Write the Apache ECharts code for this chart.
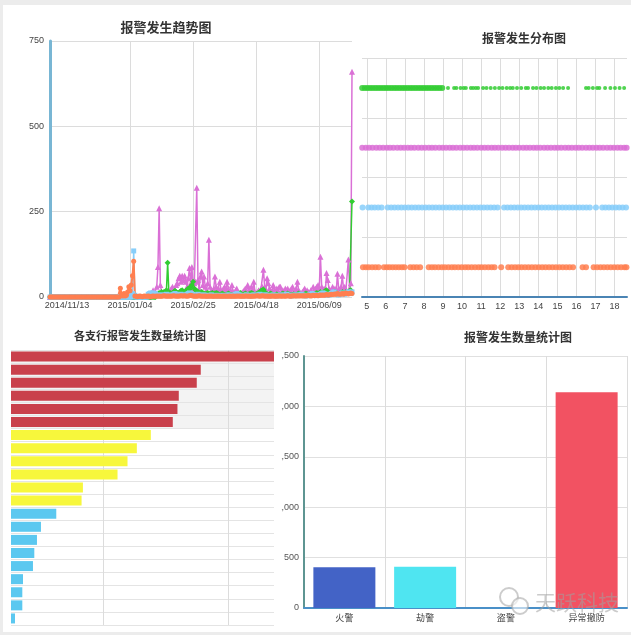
<!DOCTYPE html>
<html>
<head>
<meta charset="utf-8">
<script src="https://cdn.jsdelivr.net/npm/echarts@6/dist/echarts.min.js"></script>
<style>
html,body{margin:0;padding:0;width:631px;height:635px;background:#ececec;overflow:hidden;}
#paper{position:absolute;left:3px;top:5px;width:628px;height:627px;background:#fff;}
.c{position:absolute;left:0;top:0;width:631px;height:635px;}
</style>
</head>
<body>
<div id="paper"></div>
<div id="c4" class="c"></div>
<div id="c3" class="c"></div>
<div id="c1" class="c"></div>
<div id="c2" class="c"></div>
<script>
// ---------- Chart 1: 报警发生趋势图 ----------
const trendStart = [2014, 10, 30];
const trendDayCount = 250;
const trendLabels = ['2014/11/13', '2015/01/04', '2015/02/25', '2015/04/18', '2015/06/09'];
const trendGridLabels = ['2015/01/04', '2015/02/25', '2015/04/18', '2015/06/09'];

const purpleVals = [
  0,0,0,0,0,0,0,0,0,0, 0,0,0,0,0,0,0,0,0,0, 0,0,0,0,0,0,0,0,0,0, 0,0,0,0,0,0,0,0,0,0,
  0,0,0,0,0,0,0,0,0,0, 0,0,0,0,0,0,0,0,0,0, 0,0,0,0,0,0,0,0,0,0, 0,0,0,0,0,0,0,0,0,0,
  0,0,2,5,8,20,10,15,30,88,
  260,35,15,10,8,12,18,10,15,20,
  25,30,15,20,35,40,55,62,45,62,
  50,62,45,30,55,85,40,88,25,40,
  45,320,50,25,60,75,35,60,30,20,
  40,168,30,20,15,25,60,30,20,25,
  45,20,15,25,30,20,45,25,15,20,
  35,15,10,20,25,15,10,8,12,15,
  20,25,15,35,20,15,30,20,45,15,
  10,15,20,15,25,30,80,30,20,55,
  40,25,20,15,35,20,15,25,20,30,
  30,15,20,15,25,20,25,15,20,25,
  30,15,20,25,45,20,15,10,15,20,
  25,15,20,15,10,20,15,30,20,25,
  30,35,25,118,30,20,25,15,70,50,
  25,20,15,30,20,25,15,68,25,20,
  30,62,25,30,20,15,110,25,40,660
];
const greenVals = [
  0,0,0,0,0,0,0,0,0,0, 0,0,0,0,0,0,0,0,0,0, 0,0,0,0,0,0,0,0,0,0, 0,0,0,0,0,0,0,0,0,0,
  0,0,0,0,0,0,0,0,0,0, 0,0,0,0,0,0,0,0,0,0, 0,0,0,0,0,0,0,0,0,0, 0,0,0,0,0,0,0,0,0,0,
  0,0,0,0,0,0,0,0,5,10,
  12,10,15,12,15,12,20,100,15,12,
  10,12,15,18,15,12,10,15,18,20,
  15,12,18,20,25,22,30,35,45,25,
  20,18,15,12,10,15,12,10,8,10,
  12,10,8,10,12,8,10,12,10,8,
  6,8,10,8,6,5,8,10,8,6,
  5,6,8,6,5,8,10,12,8,6,
  8,10,8,6,8,10,12,10,8,6,
  8,10,12,15,18,20,22,15,10,8,
  6,8,10,8,6,5,6,8,6,5,
  6,8,10,8,6,8,10,8,6,5,
  6,8,6,5,8,10,8,6,5,6,
  8,10,8,6,8,6,5,6,8,10,
  12,10,8,15,12,10,15,18,20,15,
  12,10,8,10,12,15,12,10,8,10,
  12,15,12,10,15,12,15,18,20,280
];
const skyVals = [
  0,0,0,0,0,0,0,0,0,0, 0,0,0,0,0,0,0,0,0,0, 0,0,0,0,0,0,0,0,0,0, 0,0,0,0,0,0,0,0,0,0,
  0,0,0,0,0,0,0,0,0,0, 0,0,0,0,0,0,0,0,0,0,
  0,0,0,0,0,0,0,0,10,135,
  5,0,0,0,0,0,0,0,0,0,
  0,8,10,12,10,12,8,10,6,5,
  4,5,6,5,4,6,8,6,5,4,
  5,6,8,10,8,6,5,6,8,6,
  5,4,6,8,10,12,10,8,6,5,
  4,6,8,6,5,4,5,6,5,4,
  3,4,5,6,5,4,3,4,5,4,
  3,4,5,4,3,4,5,6,5,4,
  3,4,6,8,10,8,6,5,4,3,
  4,5,6,5,4,3,4,5,6,5,
  4,5,6,8,6,5,4,5,6,5,
  4,3,4,5,6,5,4,3,4,5,
  6,5,4,5,6,8,6,5,4,3,
  4,5,6,5,4,5,6,8,6,5,
  4,3,4,5,6,8,10,8,6,5,
  4,5,6,8,10,12,10,8,6,5,
  6,8,10,12,15,12,10,8,6,8,
  10,12,10,8,10,12,15,12,10,15
];
const coralVals = [
  0,0,0,0,0,0,0,0,0,0, 0,0,0,0,0,0,0,0,0,0, 0,0,0,0,0,0,0,0,0,0, 0,0,0,0,0,0,0,0,0,0,
  0,0,0,0,0,0,0,0,0,0,
  0,0,0,0,0,0,0,0,26,8,
  3,10,3,5,15,30,18,35,62,105,
  3,2,1,2,3,2,1,2,3,2,
  2,3,2,1,2,3,2,2,3,2,
  3,2,2,3,4,3,2,3,2,3,
  2,3,4,3,2,3,2,3,4,3,
  3,4,3,2,3,4,5,4,3,2,
  3,2,3,4,3,2,3,2,3,2,
  2,3,2,3,2,2,3,2,3,2,
  3,2,2,3,2,3,2,2,3,2,
  2,3,2,2,3,2,3,2,2,3,
  2,3,3,2,3,2,2,3,2,3,
  3,4,3,2,3,4,3,3,2,3,
  2,3,2,3,3,2,3,2,3,3,
  3,2,3,3,2,3,4,3,2,3,
  3,4,3,3,4,3,4,3,4,3,
  4,3,4,5,4,3,4,5,4,5,
  5,4,5,6,5,6,5,6,7,6,
  6,7,8,7,8,9,8,10,9,8,
  9,10,8,10,12,10,9,10,12,10
];

// ---------- Chart 2: 报警发生分布图 ----------
const distTypes = ['类型A', '类型B', '类型C', '类型D'];   // bottom -> top
const hourTicks = [5,6,7,8,9,10,11,12,13,14,15,16,17,18];
const coralHours = [4.8,4.95,5.1,5.28,5.45,5.62, 5.9,6.05,6.2,6.36,6.52,6.68,6.84,6.98,
  7.28,7.45,7.62,7.8,
  8.25,8.42,8.58,8.76,8.94,9.1,9.28,9.46,9.62,9.8,9.98,10.16,10.32,10.5,10.68,10.86,11.02,11.2,11.38,11.55,11.7,
  12.05,
  12.42,12.6,12.78,12.95,13.12,13.3,13.48,13.66,13.84,14.02,14.2,14.38,14.56,14.74,14.92,15.1,15.28,15.46,15.64,15.82,
  16.32,16.5,
  16.9,17.08,17.26,17.44,17.62,17.8,17.98,18.16,18.34,18.52,18.62];
const skyHours = [4.78, 5.08,5.25,5.42,5.6,5.78, 6.1,6.28,6.46,6.64,6.82,7.0,7.18,7.36,7.54,7.72,7.9,8.08,8.26,8.44,8.62,8.8,8.98,
  9.16,9.34,9.52,9.7,9.88,10.06,10.24,10.42,10.6,10.78,10.96,11.14,11.32,11.5,11.68,11.86,
  12.2,12.38,12.56,12.74,12.92,13.1,13.28,13.46,13.64,13.82,14.0,14.18,14.36,14.54,14.72,14.9,15.08,15.26,15.44,15.62,15.8,15.98,
  16.16,16.34,16.52,16.7,17.02,17.35,17.52,17.7,17.88,18.06,18.24,18.42,18.6];
const orchidHours = [4.76,4.95,5.12,5.3,5.5,5.68,5.86,6.05,6.22,6.4,6.6,6.78,6.96,7.15,7.32,7.5,7.7,7.88,8.06,8.25,8.42,8.6,8.8,8.98,
  9.16,9.35,9.52,9.7,9.9,10.08,10.26,10.45,10.62,10.8,11.0,11.18,11.36,11.55,11.72,11.9,12.1,12.28,12.46,12.65,12.82,13.0,
  13.2,13.38,13.56,13.75,13.92,14.1,14.3,14.48,14.66,14.85,15.02,15.2,15.4,15.58,15.76,15.95,16.12,16.3,16.5,16.68,16.86,
  17.05,17.22,17.4,17.6,17.78,17.96,18.15,18.32,18.5,18.63];
const greenHours = [4.76,4.9,5.04,5.18,5.32,5.46,5.6,5.74,5.88,6.02,6.16,6.3,6.44,6.58,6.72,6.86,7.0,7.14,7.28,7.42,7.56,7.7,
  7.84,7.98,8.12,8.26,8.4,8.54,8.68,8.82,8.96,
  9.26,9.58,9.7,9.92,10.08,10.2,10.46,10.58,10.72,10.84,11.1,11.28,11.5,11.72,11.94,12.12,12.34,12.52,12.66,12.88,13.1,
  13.34,13.46,13.72,13.9,14.12,14.3,14.52,14.7,14.92,15.1,15.3,15.56,
  16.5,16.64,16.86,17.08,17.2,17.5,17.78,18.02,18.26,18.5];

// ---------- Chart 3: 各支行报警发生数量统计图 ----------
const branchNames = ['支行01','支行02','支行03','支行04','支行05','支行06','支行07','支行08','支行09','支行10','支行11',
  '支行12','支行13','支行14','支行15','支行16','支行17','支行18','支行19','支行20','支行21'];
const branchVals = [395, 285, 279, 252, 250, 243, 210, 189, 175, 160, 108, 106, 68, 45, 39, 35, 33, 18, 17, 17, 6];
const branchTier = [0,0,0,0,0,0, 1,1,1,1,1,1, 2,2,2,2,2,2,2,2,2];

// ---------- Chart 4: 报警发生数量统计图 ----------
const alarmTypes = ['火警', '劫警', '盗警', '异常撤防'];
const alarmCounts = [405, 410, 0, 2140];

// ---------- styles ----------
const NUMFONT = '"Liberation Sans", "Noto Sans CJK SC", sans-serif';
const CJK = '"Noto Sans CJK SC", "Liberation Sans", sans-serif';
const C = { coral: '#ff7f50', sky: '#87cefa', orchid: '#da70d6', green: '#32cd32' };
const tierColors = ['#c9404b', '#f7f73c', '#5bc8f0'];
const alarmColors = ['#4363c6', '#4fe5f1', '#9acd32', '#f25262'];
const gridGray = '#dcdcdc';

function titleText(text, x, y, size) {
  return { type: 'text', x: x, y: y, z: 10,
    style: { text: text, fontSize: size, fontWeight: 'bold', fontFamily: CJK, fill: '#333', align: 'center', verticalAlign: 'middle' } };
}

// build date categories
const trendDates = [];
(function () {
  const d = new Date(Date.UTC(trendStart[0], trendStart[1] - 1, trendStart[2]));
  for (let i = 0; i < trendDayCount; i++) {
    const m = d.getUTCMonth() + 1, dd = d.getUTCDate();
    trendDates.push(d.getUTCFullYear() + '/' + (m < 10 ? '0' : '') + m + '/' + (dd < 10 ? '0' : '') + dd);
    d.setUTCDate(d.getUTCDate() + 1);
  }
})();

function lineSeries(vals, color, symbol, size, width) {
  return { type: 'line', data: vals, symbol: symbol, symbolSize: size, showAllSymbol: true,
    lineStyle: { color: color, width: width }, itemStyle: { color: color } };
}

const chart1 = echarts.init(document.getElementById('c1'));
chart1.setOption({
  animation: false,
  graphic: [titleText('报警发生趋势图', 166, 27, 13)],
  grid: { left: 50, top: 41, width: 302, height: 256 },
  xAxis: {
    type: 'category', data: trendDates, boundaryGap: false,
    axisLine: { show: false }, axisTick: { show: false },
    axisLabel: { interval: (i, v) => trendLabels.indexOf(v) >= 0, color: '#444', fontSize: 9, margin: 4, fontFamily: NUMFONT },
    splitLine: { show: true, interval: (i, v) => trendGridLabels.indexOf(v) >= 0, lineStyle: { color: gridGray } }
  },
  yAxis: {
    type: 'value', min: 0, max: 750, interval: 250,
    axisLine: { show: true, lineStyle: { color: '#78b6d4', width: 3 } }, axisTick: { show: false },
    axisLabel: { color: '#444', fontSize: 9, margin: 6, fontFamily: NUMFONT },
    splitLine: { lineStyle: { color: gridGray } }
  },
  series: [
    lineSeries(purpleVals, C.orchid, 'triangle', 6, 1.5),
    lineSeries(greenVals, C.green, 'diamond', 6, 1.5),
    lineSeries(skyVals, C.sky, 'rect', 5, 1.5),
    lineSeries(coralVals, C.coral, 'circle', 5, 2)
  ]
});

const chart2 = echarts.init(document.getElementById('c2'));
function scatterSeries(hours, typeIdx, color, sizeFn) {
  return { type: 'scatter', data: hours.map(h => [h, distTypes[typeIdx]]), symbolSize: sizeFn,
    itemStyle: { color: color, opacity: 0.85 } };
}
chart2.setOption({
  animation: false,
  graphic: [titleText('报警发生分布图', 524, 38, 12)],
  grid: { left: 362, top: 58, width: 265, height: 239 },
  xAxis: {
    type: 'value', min: 4.75, max: 18.65,
    axisLine: { show: true, lineStyle: { color: '#4a84b4', width: 2 } },
    axisTick: { show: false, customValues: hourTicks },
    axisLabel: { customValues: hourTicks, color: '#444', fontSize: 9, margin: 5, fontFamily: NUMFONT },
    splitLine: { show: true, lineStyle: { color: gridGray } }
  },
  yAxis: {
    type: 'category', data: distTypes,
    axisLine: { show: false }, axisTick: { show: false, interval: 0 }, axisLabel: { show: false, interval: 0 },
    splitLine: { show: true, interval: 0, lineStyle: { color: gridGray } }
  },
  series: [
    scatterSeries(coralHours, 0, C.coral, 6),
    scatterSeries(skyHours, 1, C.sky, 6),
    scatterSeries(orchidHours, 2, C.orchid, 6),
    scatterSeries(greenHours, 3, C.green, (v) => v[0] < 9.1 ? 6 : 4)
  ]
});

const chart3 = echarts.init(document.getElementById('c3'));
chart3.setOption({
  animation: false,
  graphic: [
    { type: 'rect', z: -100, shape: { x: 3, y: 318, width: 278, height: 314 }, style: { fill: '#fff' } },
    titleText('各支行报警发生数量统计图', 140, 336, 11)
  ],
  grid: { left: 11, top: 350, width: 263, height: 275 },
  xAxis: {
    type: 'value', min: 0, max: 395,
    axisLine: { show: false }, axisTick: { show: false, customValues: [138, 327] }, axisLabel: { show: false },
    splitLine: { show: true, lineStyle: { color: gridGray } }
  },
  yAxis: {
    type: 'category', inverse: true, data: branchNames,
    axisLine: { show: false }, axisTick: { show: false, interval: 0 }, axisLabel: { show: false, interval: 0 },
    splitLine: { show: true, interval: 0, lineStyle: { color: '#e4e4e4' } },
    splitArea: { show: true, interval: 0, areaStyle: { color: branchTier.map(t => t === 0 ? '#f3f3f3' : 'rgba(255,255,255,0)') } }
  },
  series: [{
    type: 'bar', data: branchVals, barWidth: 10,
    itemStyle: { color: (p) => tierColors[branchTier[p.dataIndex]] }
  }]
});

const chart4 = echarts.init(document.getElementById('c4'));
chart4.setOption({
  animation: false,
  graphic: [
    titleText('报警发生数量统计图', 518, 337, 12),
    { type: 'circle', z: 20, shape: { cx: 509, cy: 597, r: 9 }, style: { fill: 'rgba(255,255,255,0.5)', stroke: 'rgba(170,170,170,0.6)', lineWidth: 2 } },
    { type: 'circle', z: 21, shape: { cx: 520, cy: 606, r: 8 }, style: { fill: 'rgba(255,255,255,0.6)', stroke: 'rgba(170,170,170,0.6)', lineWidth: 2 } },
    { type: 'text', z: 22, x: 577, y: 602, style: { text: '天跃科技', fontSize: 21, fontFamily: CJK, fill: 'rgba(160,160,160,0.55)', align: 'center', verticalAlign: 'middle' } }
  ],
  grid: { left: 304, top: 356, width: 323, height: 252 },
  xAxis: {
    type: 'category', data: alarmTypes,
    axisLine: { show: true, lineStyle: { color: '#4a90c8', width: 2 } }, axisTick: { show: false },
    axisLabel: { color: '#444', fontSize: 9, margin: 5, fontFamily: CJK },
    splitLine: { show: true, lineStyle: { color: gridGray } }
  },
  yAxis: {
    type: 'value', min: 0, max: 2500, interval: 500,
    axisLine: { show: true, lineStyle: { color: '#5e9592', width: 2 } }, axisTick: { show: false },
    axisLabel: { color: '#555', fontSize: 9, margin: 5, fontFamily: NUMFONT, formatter: (v) => v.toLocaleString('en-US') },
    splitLine: { lineStyle: { color: '#e0e0e0' } }
  },
  series: [{
    type: 'bar', data: alarmCounts, barWidth: 62,
    itemStyle: { color: (p) => alarmColors[p.dataIndex] }
  }]
});
</script>
</body>
</html>
